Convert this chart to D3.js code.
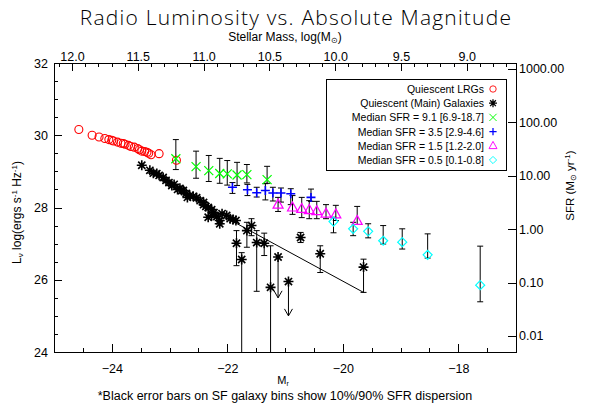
<!DOCTYPE html>
<html lang="en">
<head>
  <meta charset="UTF-8">
  <title>Radio Luminosity vs. Absolute Magnitude</title>
  <script src="https://d3js.org/d3.v7.min.js"></script>
  <style>
    body { margin: 0; background: white; }
    svg { display: block; }
    text { font-family: "Liberation Sans", Arial, sans-serif; fill: black; }
    .axis path, .axis line { stroke: black; stroke-width: 1; shape-rendering: crispEdges; }
    .axis text { font-size: 12.5px; font-family: "Liberation Sans", Arial, sans-serif; }
  </style>
</head>
<body>
<script>
  // quiescent LRGs (red circles)
  const lrgM = [-24.57, -24.34, -24.22, -24.12, -24.05, -24.00, -23.97, -23.90, -23.84, -23.80, -23.77, -23.71, -23.67, -23.61, -23.55, -23.52, -23.48, -23.43, -23.39, -23.36, -23.32, -23.18, -22.88];
  const lrgL = [30.16, 30.00, 29.95, 29.91, 29.88, 29.86, 29.84, 29.81, 29.78, 29.77, 29.75, 29.72, 29.69, 29.67, 29.63, 29.60, 29.56, 29.55, 29.53, 29.50, 29.46, 29.49, 29.31];

  // quiescent main galaxies (black asterisks, no bars)
  const quiM = [-23.48, -23.34, -23.28, -23.22, -23.18, -23.11, -23.06, -23.01, -22.96, -22.92, -22.86, -22.82, -22.79, -22.76, -22.71, -22.69, -22.65, -22.59, -22.53, -22.47, -22.41, -22.41, -22.37, -22.33, -22.33, -22.27, -22.27, -22.23, -22.18, -22.13, -22.13, -22.09, -22.01, -21.95, -21.90, -21.85];
  const quiL = [29.17, 29.03, 28.95, 28.94, 28.89, 28.83, 28.75, 28.69, 28.61, 28.64, 28.50, 28.53, 28.47, 28.47, 28.39, 28.28, 28.33, 28.31, 28.27, 28.19, 28.14, 28.08, 28.03, 28.00, 27.73, 27.94, 27.78, 27.86, 27.75, 27.64, 27.55, 27.83, 27.78, 27.69, 27.67, 27.64];

  // quiescent bins with 10/90% bars
  const binM  = [-21.84, -21.75, -21.66, -21.58, -21.49, -21.36, -21.25, -20.73, -20.39, -19.64];
  const binL  = [27.01, 26.56, 27.36, 27.50, 27.03, 27.01, 25.79, 27.17, 26.72, 26.35];
  const binHi = [27.36, 26.75, 27.59, 27.69, 27.36, 27.29, 26.94, 27.31, 26.94, 26.57];
  const binLo = [26.39, 23.50, 26.90, 27.22, 25.68, 26.67, 23.50, 27.03, 26.20, 25.65];

  // upper limits (arrows)
  const limM  = [-21.12, -20.94];
  const limL  = [26.63, 25.95];
  const limTo = [25.50, 25.00];

  // trend line
  const fitM = [-21.92, -19.64];
  const fitL = [27.63, 25.65];

  // star forming bins
  const sfr91M  = [-22.89, -22.54, -22.32, -22.13, -22.00, -21.83, -21.66, -21.31];
  const sfr91L  = [29.35, 29.13, 29.02, 28.94, 28.93, 28.90, 28.91, 28.77];
  const sfr91Hi = [29.88, 29.56, 29.44, 29.36, 29.30, 29.25, 29.19, 29.14];
  const sfr91Lo = [29.05, 28.81, 28.72, 28.67, 28.62, 28.61, 28.68, 28.67];

  const sfr35M  = [-21.91, -21.65, -21.49, -21.34, -21.21, -21.07, -20.90, -20.55];
  const sfr35L  = [28.56, 28.49, 28.41, 28.47, 28.40, 28.40, 28.38, 28.28];
  const sfr35Hi = [28.69, 28.64, 28.56, 28.66, 28.56, 28.54, 28.52, 28.51];
  const sfr35Lo = [28.39, 28.33, 28.29, 28.21, 28.18, 28.15, 28.08, 28.17];

  const sfr15M  = [-21.12, -20.87, -20.71, -20.58, -20.45, -20.29, -20.12, -19.75];
  const sfr15L  = [28.08, 28.00, 27.96, 27.93, 27.90, 27.83, 27.81, 27.63];
  const sfr15Hi = [28.28, 28.33, 28.28, 28.19, 28.17, 28.08, 28.06, 28.03];
  const sfr15Lo = [27.89, 27.81, 27.72, 27.69, 27.69, 27.69, 27.64, 27.53];

  const sfr05M  = [-20.16, -19.82, -19.56, -19.30, -18.97, -18.53, -17.62];
  const sfr05L  = [27.61, 27.41, 27.34, 27.08, 27.04, 26.69, 25.85];
  const sfr05Hi = [27.73, 27.59, 27.55, 27.50, 27.41, 27.27, 26.93];
  const sfr05Lo = [27.30, 27.22, 27.16, 26.99, 26.85, 26.60, 25.39];

  // axes ticks
  const xMajor = [-24, -22, -20, -18];
  const massMajor = [12.0, 11.5, 11.0, 10.5, 10.0, 9.5, 9.0];
  const yMajor = [24, 26, 28, 30, 32];
  const sfrTicks = [0.01, 0.1, 1, 10, 100, 1000];

  const legendLabels = ["Quiescent LRGs", "Quiescent (Main) Galaxies",
    "Median SFR = 9.1 [6.9-18.7]", "Median SFR = 3.5 [2.9-4.6]",
    "Median SFR = 1.5 [1.2-2.0]", "Median SFR = 0.5 [0.1-0.8]"];

  const width = 595, height = 405;
  const pLeft = 54, pRight = 516, pTop = 63, pBottom = 352;

  const svg = d3.select("body").append("svg")
    .attr("width", width).attr("height", height);

  const x = d3.scaleLinear().domain([-25, -17]).range([pLeft, pRight]);
  const y = d3.scaleLinear().domain([24, 32]).range([pBottom, pTop]);
  const xMass = d3.scaleLinear().domain([12.137, 8.626]).range([pLeft, pRight]);
  const ySfr = d3.scaleLog().domain([Math.pow(10, -2.30), Math.pow(10, 3.11)]).range([pBottom, pTop]);

  // minor ticks
  const xMinor = d3.range(-25, -16.99, 0.5).filter(v => !xMajor.includes(v));
  const yMinor = d3.range(24, 32.01, 0.5).filter(v => !yMajor.includes(v));
  const massMinor = d3.range(8.7, 12.11, 0.1).map(v => +v.toFixed(1)).filter(v => !massMajor.includes(v));

  svg.append("g").attr("class", "axis").attr("transform", `translate(0,${pBottom})`)
    .call(d3.axisBottom(x).tickValues(xMajor).tickSize(-8).tickPadding(12)
      .tickFormat(d => "\u2212" + Math.abs(d)));
  svg.append("g").attr("class", "axis").attr("transform", `translate(0,${pBottom})`)
    .call(d3.axisBottom(x).tickValues(xMinor).tickSize(-4).tickFormat(""));

  svg.append("g").attr("class", "axis").attr("transform", `translate(0,${pTop})`)
    .call(d3.axisTop(xMass).tickValues(massMajor).tickSize(-8).tickPadding(2)
      .tickFormat(d3.format(".1f")));
  svg.append("g").attr("class", "axis").attr("transform", `translate(0,${pTop})`)
    .call(d3.axisTop(xMass).tickValues(massMinor).tickSize(-4).tickFormat(""));

  svg.append("g").attr("class", "axis").attr("transform", `translate(${pLeft},0)`)
    .call(d3.axisLeft(y).tickValues(yMajor).tickSize(-8).tickPadding(6).tickFormat(d3.format("d")));
  svg.append("g").attr("class", "axis").attr("transform", `translate(${pLeft},0)`)
    .call(d3.axisLeft(y).tickValues(yMinor).tickSize(-4).tickFormat(""));

  svg.append("g").attr("class", "axis").attr("transform", `translate(${pRight},0)`)
    .call(d3.axisRight(ySfr).tickValues(sfrTicks).tickSize(-8).tickPadding(3)
      .tickFormat(d3.format(".2f")));

  svg.selectAll(".axis text").style("font-size", "12.5px");

  // titles
  svg.append("text").attr("x", 296).attr("y", 25).attr("text-anchor", "middle")
    .style("font-family", "'Open Sans', 'Liberation Sans', sans-serif").style("font-weight", 300)
    .style("font-size", "21px").style("letter-spacing", "1.2px")
    .text("Radio Luminosity vs. Absolute Magnitude");

  const topTitle = svg.append("text").attr("x", 285).attr("y", 41)
    .attr("text-anchor", "middle").style("font-size", "12px");
  topTitle.append("tspan").text("Stellar Mass, log(M");
  topTitle.append("tspan").attr("baseline-shift", "-25%").style("font-size", "8px").text("\u2299");
  topTitle.append("tspan").text(")");

  const xTitle = svg.append("text").attr("x", 283).attr("y", 384)
    .attr("text-anchor", "middle").style("font-size", "11px");
  xTitle.append("tspan").text("M");
  xTitle.append("tspan").attr("baseline-shift", "-25%").style("font-size", "7px").text("r");

  svg.append("text").attr("x", 285).attr("y", 400).attr("text-anchor", "middle")
    .style("font-size", "12.5px")
    .text("*Black error bars on SF galaxy bins show 10%/90% SFR dispersion");

  const yTitle = svg.append("text").attr("transform", `translate(21,${(pTop + pBottom) / 2 + 5}) rotate(-90)`)
    .attr("text-anchor", "middle").style("font-size", "12px");
  yTitle.append("tspan").text("L");
  yTitle.append("tspan").attr("baseline-shift", "-25%").style("font-size", "8px").text("\u03bd");
  yTitle.append("tspan").text(" log(ergs s");
  yTitle.append("tspan").attr("baseline-shift", "super").style("font-size", "8px").text("-1");
  yTitle.append("tspan").text(" Hz");
  yTitle.append("tspan").attr("baseline-shift", "super").style("font-size", "8px").text("-1");
  yTitle.append("tspan").text(")");

  const ySfrTitle = svg.append("text").attr("transform", `translate(574,${(pTop + pBottom) / 2 - 22}) rotate(-90)`)
    .attr("text-anchor", "middle").style("font-size", "11.5px");
  ySfrTitle.append("tspan").text("SFR (M");
  ySfrTitle.append("tspan").attr("baseline-shift", "-25%").style("font-size", "8px").text("\u2299");
  ySfrTitle.append("tspan").text(" yr");
  ySfrTitle.append("tspan").attr("baseline-shift", "super").style("font-size", "8px").text("-1");
  ySfrTitle.append("tspan").text(")");

  // plot content clipped to the frame
  svg.append("clipPath").attr("id", "frame").append("rect")
    .attr("x", pLeft).attr("y", pTop).attr("width", pRight - pLeft).attr("height", pBottom - pTop);
  const plot = svg.append("g").attr("clip-path", "url(#frame)");

  const symbols = {
    circle: (g, c) => g.append("circle").attr("r", 4).attr("fill", "none").attr("stroke", c).attr("stroke-width", 1.1),
    asterisk: (g, c) => g.append("path").attr("d", "M-5,0H5M0,-5V5M-3.6,-3.6L3.6,3.6M-3.6,3.6L3.6,-3.6")
      .attr("stroke", c).attr("stroke-width", 1.6).attr("fill", "none"),
    cross: (g, c) => g.append("path").attr("d", "M-4.5,-4.5L4.5,4.5M-4.5,4.5L4.5,-4.5")
      .attr("stroke", c).attr("stroke-width", 1.2).attr("fill", "none"),
    plus: (g, c) => g.append("path").attr("d", "M-4.5,0H4.5M0,-4.5V4.5")
      .attr("stroke", c).attr("stroke-width", 1.6).attr("fill", "none"),
    triangle: (g, c) => g.append("path").attr("d", "M0,-5.5L5,3.5L-5,3.5Z")
      .attr("stroke", c).attr("stroke-width", 1.2).attr("fill", "none"),
    diamond: (g, c) => g.append("path").attr("d", "M0,-4.5L4.5,0L0,4.5L-4.5,0Z")
      .attr("stroke", c).attr("stroke-width", 1.2).attr("fill", "none")
  };

  function errorBars(ms, hi, lo) {
    ms.forEach((m, i) => {
      const px = x(m);
      plot.append("line").attr("x1", px).attr("x2", px).attr("y1", y(hi[i])).attr("y2", y(lo[i]))
        .attr("stroke", "black").attr("stroke-width", 1);
      [hi[i], lo[i]].forEach(v => {
        plot.append("line").attr("x1", px - 3).attr("x2", px + 3).attr("y1", y(v)).attr("y2", y(v))
          .attr("stroke", "black").attr("stroke-width", 1);
      });
    });
  }

  function points(ms, ls, sym, color) {
    ms.forEach((m, i) => {
      const g = plot.append("g").attr("transform", `translate(${x(m)},${y(ls[i])})`);
      symbols[sym](g, color);
    });
  }

  // trend line
  plot.append("path")
    .attr("d", d3.line()(fitM.map((m, i) => [x(m), y(fitL[i])])))
    .attr("stroke", "black").attr("fill", "none").attr("stroke-width", 1);

  errorBars(sfr91M, sfr91Hi, sfr91Lo);
  errorBars(sfr35M, sfr35Hi, sfr35Lo);
  errorBars(sfr15M, sfr15Hi, sfr15Lo);
  errorBars(sfr05M, sfr05Hi, sfr05Lo);
  errorBars(binM, binHi, binLo);

  // upper-limit arrows
  limM.forEach((m, i) => {
    const px = x(m), y0 = y(limL[i]), y1 = y(limTo[i]);
    plot.append("path").attr("d", `M${px},${y0}V${y1}M${px - 4},${y1 - 7}L${px},${y1}L${px + 4},${y1 - 7}`)
      .attr("stroke", "black").attr("fill", "none").attr("stroke-width", 1);
  });

  points(lrgM, lrgL, "circle", "#ff0000");
  points(quiM, quiL, "asterisk", "black");
  points(binM, binL, "asterisk", "black");
  points(limM, limL, "asterisk", "black");
  points(sfr91M, sfr91L, "cross", "#00ff00");
  points(sfr35M, sfr35L, "plus", "#0000ff");
  points(sfr15M, sfr15L, "triangle", "#ff00ff");
  points(sfr05M, sfr05L, "diamond", "#00ffff");

  // legend
  const legendSyms = ["circle", "asterisk", "cross", "plus", "triangle", "diamond"];
  const legendColors = ["#ff0000", "black", "#00ff00", "#0000ff", "#ff00ff", "#00ffff"];
  svg.append("rect").attr("x", 326.5).attr("y", 79.5).attr("width", 180).attr("height", 91)
    .attr("fill", "white").attr("stroke", "black").attr("stroke-width", 1);
  legendLabels.forEach((lab, i) => {
    const ly = 89 + i * 14.2;
    svg.append("text").attr("x", 484).attr("y", ly + 4).attr("text-anchor", "end")
      .style("font-size", "10.5px").text(lab);
    const g = svg.append("g").attr("transform", `translate(493,${ly}) scale(0.8)`);
    symbols[legendSyms[i]](g, legendColors[i]);
  });
</script>
</body>
</html>
